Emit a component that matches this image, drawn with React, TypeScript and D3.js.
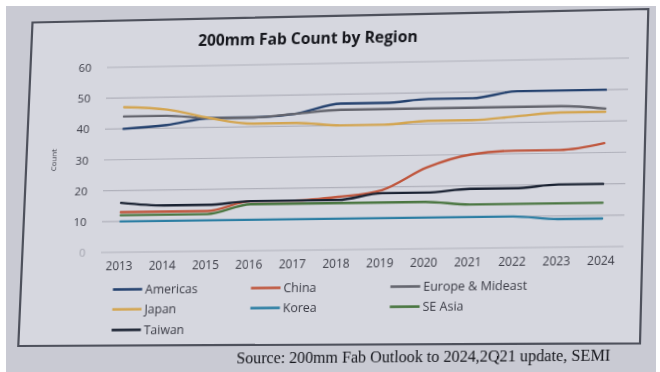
import React from 'react';
import * as d3 from 'd3';

// ---- data ----
const years = ['2013', '2014', '2015', '2016', '2017', '2018', '2019', '2020', '2021', '2022', '2023', '2024'];
const americas = [40, 41, 43, 43, 44, 47, 47, 48, 48, 50, 50, 50];
const china = [13, 13, 13, 16, 16, 17, 19, 26, 30, 31, 31, 33];
const europe = [44, 44, 43, 43, 44, 45, 45, 45, 45, 45, 45, 44];
const japan = [47, 46, 43, 41, 41, 40, 40, 41, 41, 42, 43, 43];
const korea = [10, 10, 10, 10, 10, 10, 10, 10, 10, 10, 9, 9];
const seAsia = [12, 12, 12, 15, 15, 15, 15, 15, 14, 14, 14, 14];
const taiwan = [16, 15, 15, 16, 16, 16, 18, 18, 19, 19, 20, 20];
const yTicks = [0, 10, 20, 30, 40, 50, 60];

const series = [
  { name: 'Americas', values: americas, color: '#25426f' },
  { name: 'China', values: china, color: '#bf563d' },
  { name: 'Europe & Mideast', values: europe, color: '#64656e' },
  { name: 'Japan', values: japan, color: '#d3a551' },
  { name: 'Korea', values: korea, color: '#2c7ea3' },
  { name: 'SE Asia', values: seAsia, color: '#4a7641' },
  { name: 'Taiwan', values: taiwan, color: '#1a2232' },
];

const W = 660;
const H = 372;

// plot box in the chart's own flat coordinates
const plot = { left: 104, right: 631, top: 63, bottom: 250 };

// the slide is photographed at a slight angle: map the flat plot box onto its tilted outline
const flatCorners = [
  [plot.left, plot.top],
  [plot.right, plot.top],
  [plot.right, plot.bottom],
  [plot.left, plot.bottom],
];
const tiltedCorners = [
  [107, 67.5],
  [629, 58],
  [623.5, 246.5],
  [101, 252.5],
];
const slideOutline = [
  [32.5, 22.5],
  [648.3, 9],
  [640, 343.3],
  [18.3, 346],
];

function solveHomography(src: number[][], dst: number[][]) {
  const A: number[][] = [];
  const b: number[] = [];
  for (let i = 0; i < 4; i++) {
    const [x, y] = src[i];
    const [u, v] = dst[i];
    A.push([x, y, 1, 0, 0, 0, -u * x, -u * y]);
    b.push(u);
    A.push([0, 0, 0, x, y, 1, -v * x, -v * y]);
    b.push(v);
  }
  const n = 8;
  for (let c = 0; c < n; c++) {
    let p = c;
    for (let r = c + 1; r < n; r++) if (Math.abs(A[r][c]) > Math.abs(A[p][c])) p = r;
    [A[c], A[p]] = [A[p], A[c]];
    [b[c], b[p]] = [b[p], b[c]];
    for (let r = 0; r < n; r++) {
      if (r === c) continue;
      const f = A[r][c] / A[c][c];
      for (let k = c; k < n; k++) A[r][k] -= f * A[c][k];
      b[r] -= f * b[c];
    }
  }
  return b.map((v, i) => v / A[i][i]);
}

const [ha, hb, hc, hd, he, hf, hg, hh] = solveHomography(flatCorners, tiltedCorners);
const warp = `matrix3d(${ha},${hd},0,${hg},${hb},${he},0,${hh},0,0,1,0,${hc},${hf},0,1)`;

const x = d3.scalePoint<string>().domain(years).range([123, 609]);
const y = d3.scaleLinear().domain([0, 60]).range([plot.bottom, plot.top]);

const line = d3
  .line<number>()
  .x((_, i) => x(years[i]) as number)
  .y((d) => y(d))
  .curve(d3.curveMonotoneX);

const legendCols = [117.5, 258.5, 399.5];
const legendRows = [287.5, 307.6, 328.4];

const font = '"Open Sans", sans-serif';

export default function App() {
  return (
    <div
      style={{
        position: 'fixed',
        left: 0,
        top: 0,
        width: W,
        height: H,
        overflow: 'hidden',
        background: '#ffffff',
      }}
    >
      <svg width={W} height={H} style={{ position: 'absolute', left: 0, top: 0 }}>
        <rect x={6} y={6} width={650} height={H - 6} fill="#c9cad3" />
        <polygon
          points={slideOutline.map((p) => p.join(',')).join(' ')}
          fill="#d6d7df"
          stroke="#4e515c"
          strokeWidth={2.2}
        />
      </svg>
      <svg
        width={W}
        height={H}
        style={{
          position: 'absolute',
          left: 0,
          top: 0,
          overflow: 'visible',
          transformOrigin: '0 0',
          transform: warp,
        }}
      >
        {/* gridlines and value labels */}
        {yTicks.map((t) => (
          <g key={t}>
            <line
              x1={plot.left}
              x2={plot.right}
              y1={y(t)}
              y2={y(t)}
              stroke="#b0b1bb"
              strokeWidth={1.1}
            />
            <text
              x={88}
              y={y(t)}
              dy="0.35em"
              textAnchor="end"
              fontFamily={font}
              fontSize={11.5}
              fill={t === 0 ? '#a3a4ae' : '#3a3b45'}
            >
              {t}
            </text>
          </g>
        ))}

        {/* year labels */}
        {years.map((yr) => (
          <text
            key={yr}
            x={x(yr)}
            y={264}
            dy="0.35em"
            textAnchor="middle"
            fontFamily={font}
            fontSize={12}
            fill="#3a3b45"
          >
            {yr}
          </text>
        ))}

        {/* axis title */}
        <text
          transform="translate(52.5,156) rotate(-90)"
          textAnchor="middle"
          dy="0.35em"
          fontFamily={font}
          fontSize={8}
          fill="#3a3b45"
        >
          Count
        </text>

        {/* series */}
        {series.map((s) => (
          <path
            key={s.name}
            d={line(s.values) || ''}
            fill="none"
            stroke={s.color}
            strokeWidth={2.4}
            strokeLinejoin="round"
            strokeLinecap="round"
          />
        ))}

        {/* title */}
        <text
          x={308}
          y={37}
          dy="0.35em"
          textAnchor="middle"
          fontFamily={font}
          fontWeight={700}
          fontSize={15.8}
          fill="#15161c"
        >
          200mm Fab Count by Region
        </text>

        {/* legend */}
        {series.map((s, i) => {
          const lx = legendCols[i % 3];
          const ly = legendRows[Math.floor(i / 3)];
          return (
            <g key={s.name}>
              <line x1={lx} x2={lx + 30} y1={ly} y2={ly} stroke={s.color} strokeWidth={2.6} />
              <text
                x={lx + 33}
                y={ly}
                dy="0.35em"
                fontFamily={font}
                fontSize={12.5}
                fill="#3a3b45"
              >
                {s.name}
              </text>
            </g>
          );
        })}

        {/* source note */}
        <text
          x={246}
          y={358}
          dy="0.33em"
          fontFamily='"Liberation Serif", "Times New Roman", serif'
          fontSize={16.2}
          fill="#15161c"
        >
          Source: 200mm Fab Outlook to 2024,2Q21 update, SEMI
        </text>
      </svg>
    </div>
  );
}
